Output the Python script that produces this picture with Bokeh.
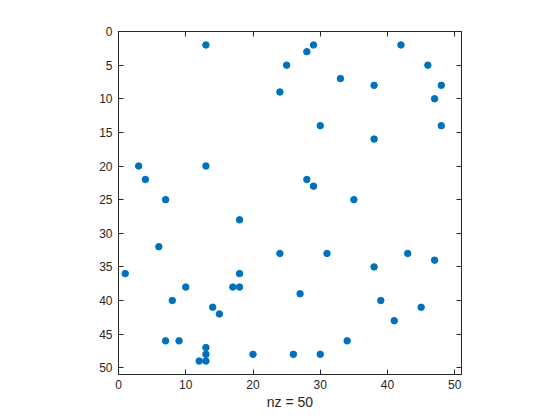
from bokeh.plotting import figure
from bokeh.models import Range1d, LinearAxis, FixedTicker, CustomJSTickFormatter
from bokeh.embed import file_html
from bokeh.resources import INLINE

cols = [13, 29, 28, 42, 25, 46, 48, 33, 38, 24, 47, 30, 48, 38, 3, 13, 4, 28, 29, 7,
        35, 18, 6, 24, 31, 43, 38, 47, 1, 18, 10, 17, 18, 27, 8, 39, 14, 45, 15, 41,
        7, 9, 34, 13, 13, 20, 26, 30, 12, 13]
rows = [2, 2, 3, 2, 5, 5, 8, 7, 8, 9, 10, 14, 14, 16, 20, 20, 22, 22, 23, 25,
        25, 28, 32, 33, 33, 33, 35, 34, 36, 36, 38, 38, 38, 39, 40, 40, 41, 41, 42, 43,
        46, 46, 46, 47, 48, 48, 48, 48, 49, 49]
x_ticks = [0, 10, 20, 30, 40, 50]
y_ticks = [0, 5, 10, 15, 20, 25, 30, 35, 40, 45, 50]
xlabel = "nz = %d" % len(cols)

AX = "#262626"
FONT = "Liberation Sans"

p = figure(width=560, height=420, output_backend="svg", toolbar_location=None,
           x_range=Range1d(0, 51), y_range=Range1d(51, 0),
           min_border_left=118, min_border_right=99, min_border_top=31, min_border_bottom=46)
p.xgrid.visible = False
p.ygrid.visible = False
p.outline_line_color = AX
p.outline_line_width = 1

p.scatter(cols, rows, size=6.5, color="#0072BD", line_color="#0072BD")

def style(ax, ticks, labels=True):
    ax.ticker = FixedTicker(ticks=ticks)
    ax.major_tick_in = 5
    ax.major_tick_out = 0
    ax.minor_tick_line_color = None
    ax.axis_line_color = AX
    ax.major_tick_line_color = AX
    ax.major_label_text_color = AX
    ax.major_label_text_font = FONT
    ax.major_label_text_font_size = "12px"
    if not labels:
        ax.formatter = CustomJSTickFormatter(code="return '';")
        ax.major_label_standoff = 0

style(p.xaxis[0], x_ticks)
style(p.yaxis[0], y_ticks)
p.xaxis[0].major_label_standoff = 5
p.yaxis[0].major_label_standoff = 6
p.xaxis[0].axis_label = xlabel
p.xaxis[0].axis_label_text_font = FONT
p.xaxis[0].axis_label_text_font_size = "14px"
p.xaxis[0].axis_label_text_font_style = "normal"
p.xaxis[0].axis_label_text_color = AX
p.xaxis[0].axis_label_standoff = 2

top = LinearAxis()
style(top, x_ticks, labels=False)
p.add_layout(top, "above")
right = LinearAxis()
style(right, y_ticks, labels=False)
p.add_layout(right, "right")

open("out.html", "w").write(file_html(p, INLINE))
